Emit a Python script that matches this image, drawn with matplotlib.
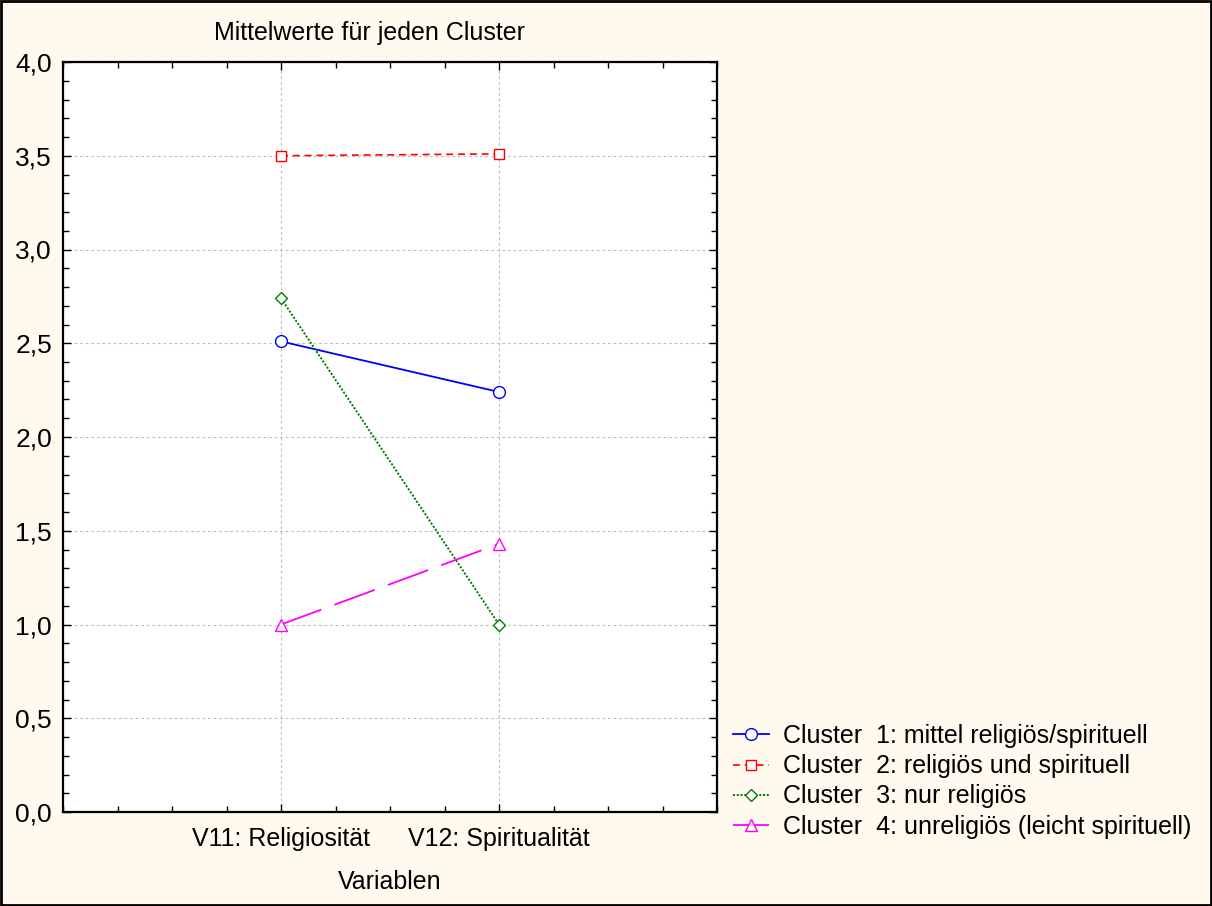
import matplotlib
matplotlib.use("Agg")
import matplotlib.pyplot as plt
from matplotlib.ticker import MultipleLocator, FixedLocator
from matplotlib.patches import Rectangle

plt.rcParams['font.family'] = ['Liberation Sans', 'DejaVu Sans']
plt.rcParams['lines.scale_dashes'] = False

categories = ["V11: Religiosität", "V12: Spiritualität"]
series_names = [
    "Cluster  1: mittel religiös/spirituell",
    "Cluster  2: religiös und spirituell",
    "Cluster  3: nur religiös",
    "Cluster  4: unreligiös (leicht spirituell)",
]
cluster1 = [2.51, 2.24]
cluster2 = [3.50, 3.51]
cluster3 = [2.74, 1.00]
cluster4 = [1.00, 1.43]
y_ticks = [0.0, 0.5, 1.0, 1.5, 2.0, 2.5, 3.0, 3.5, 4.0]

bg = '#FFF9EE'
fig = plt.figure(figsize=(12.12, 9.06), dpi=100, facecolor=bg)
ax = fig.add_axes([63/1212, 1-812/906, (717-63)/1212, (812-62)/906])
ax.set_facecolor('white')

x = [1, 2]
styles = [
    dict(color='#0000FF', marker='o', ls='-', ms=8.5, lw=1.3),
    dict(color='#FF0000', marker='s', ls=(0, (5, 3.5)), ms=7.5, lw=1.2),
    dict(color='#008000', marker='D', ls=(0, (1.5, 1.2)), ms=6.5, lw=1.4),
    dict(color='#FF00FF', marker='^', ls=(0, (31, 10)), ms=8.5, lw=1.3),
]
for vals, name, st in zip([cluster1, cluster2, cluster3, cluster4], series_names, styles):
    ax.plot(x, vals, color=st['color'], marker=st['marker'], linestyle=st['ls'],
            markersize=st['ms'], linewidth=st['lw'], markerfacecolor='white',
            markeredgecolor=st['color'], markeredgewidth=1.0, label=name, zorder=3)

ax.set_xlim(0, 3)
ax.set_ylim(0, 4)
ax.xaxis.set_major_locator(FixedLocator(x))
ax.xaxis.set_minor_locator(MultipleLocator(0.25))
ax.set_xticklabels(categories, fontsize=18)
ax.yaxis.set_major_locator(FixedLocator(y_ticks))
ax.yaxis.set_minor_locator(MultipleLocator(0.1))
ax.set_yticklabels([f"{v:.1f}".replace('.', ',') for v in y_ticks], fontsize=19)

ax.tick_params(which='both', direction='in', top=True, right=True, color='black')
ax.tick_params(which='major', length=6, width=1.0)
ax.tick_params(which='minor', length=4, width=1.0)
ax.tick_params(axis='x', which='major', pad=11)
ax.tick_params(axis='y', which='major', pad=8)

ax.grid(True, which='major', color='#BEBEBE', linestyle=(0, (2, 2)), linewidth=0.8, zorder=0)
for s in ax.spines.values():
    s.set_linewidth(1.6)

fig.text(370/1212, 1-33/906, "Mittelwerte für jeden Cluster", ha='center', va='center', fontsize=18)
fig.text(390/1212, 1-882/906, "Variablen", ha='center', va='center', fontsize=18)

leg = fig.legend(loc='upper left', bbox_to_anchor=(733/1212, 1-724/906), frameon=False,
                 fontsize=18, handlelength=1.45, handletextpad=0.55, labelspacing=0.25,
                 borderaxespad=0, borderpad=0)

fig.add_artist(Rectangle((0.001, 0.001), 0.998, 0.998, transform=fig.transFigure,
                         fill=False, edgecolor='black', linewidth=2))

fig.savefig("out.png", dpi=100, facecolor=bg)
